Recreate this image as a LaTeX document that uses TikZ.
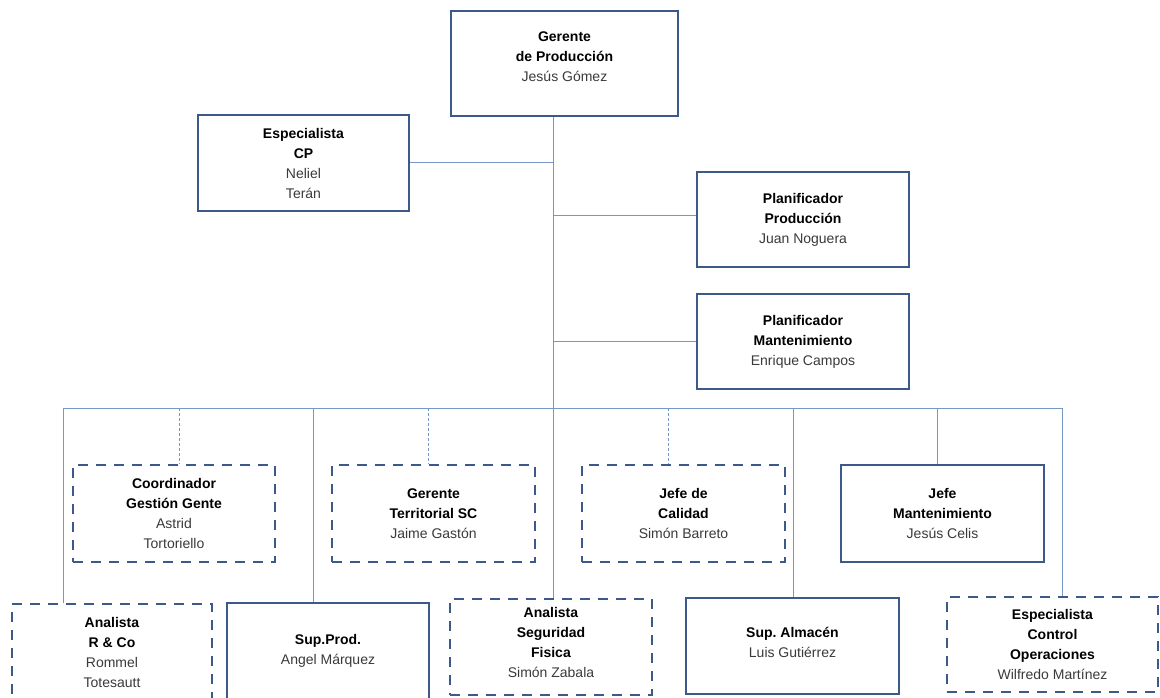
\documentclass[tikz,border=0pt]{standalone}
\usepackage{fontspec}
\setmainfont{Liberation Sans}
\usepackage{xcolor}
\usetikzlibrary{calc,positioning}
\definecolor{OrgBorder}{HTML}{3B5A89}
\definecolor{OrgLink}{HTML}{7798C6}
\definecolor{OrgName}{HTML}{3A3A3A}
\tikzset{
  orgbox/.style={draw=OrgBorder,line width=2.6pt,fill=white,align=center,
    inner sep=4pt,font=\fontsize{14}{20}\selectfont},
  dashbox/.style={orgbox,dash pattern=on 10pt off 8pt},
  link/.style={draw=OrgLink,line width=1pt},
  dashlink/.style={link,dash pattern=on 3pt off 2pt}
}
\newcommand{\puesto}[1]{\textbf{#1}}
\newcommand{\persona}[1]{\textcolor{OrgName}{#1}}

\begin{document}
\begin{tikzpicture}[x=1pt,y=-1pt]
  \path[use as bounding box] (0,0) rectangle (1160,698);
  \clip (0,0) rectangle (1160,698);
  % upper level
  \node[orgbox,minimum width=227pt,minimum height=105pt,text depth=13pt] (gerente) at (564.5,63.5)
    {\puesto{Gerente}\\\puesto{de Producción}\\\persona{Jesús Gómez}};
  \node[orgbox,minimum width=211pt,minimum height=96pt] (espcp) at (303.5,163)
    {\puesto{Especialista}\\\puesto{CP}\\\persona{Neliel}\\\persona{Terán}};
  \node[orgbox,minimum width=212pt,minimum height=95pt] (planprod) at (803,219.5)
    {\puesto{Planificador}\\\puesto{Producción}\\\persona{Juan Noguera}};
  \node[orgbox,minimum width=212pt,minimum height=95pt] (planmant) at (803,341.5)
    {\puesto{Planificador}\\\puesto{Mantenimiento}\\\persona{Enrique Campos}};
  % middle row
  \node[dashbox,minimum width=202pt,minimum height=97pt] (coord) at (174,513.5)
    {\puesto{Coordinador}\\\puesto{Gestión Gente}\\\persona{Astrid}\\\persona{Tortoriello}};
  \node[dashbox,minimum width=203pt,minimum height=97pt] (gerterr) at (433.5,513.5)
    {\puesto{Gerente}\\\puesto{Territorial SC}\\\persona{Jaime Gastón}};
  \node[dashbox,minimum width=203pt,minimum height=97pt] (jefecal) at (683.5,513.5)
    {\puesto{Jefe de}\\\puesto{Calidad}\\\persona{Simón Barreto}};
  \node[orgbox,minimum width=203pt,minimum height=97pt] (jefemant) at (942.5,513.5)
    {\puesto{Jefe}\\\puesto{Mantenimiento}\\\persona{Jesús Celis}};
  % bottom row
  \node[dashbox,minimum width=200pt,minimum height=96pt] (analrco) at (112,652)
    {\puesto{Analista}\\\puesto{R \& Co}\\\persona{Rommel}\\\persona{Totesautt}};
  \node[orgbox,minimum width=202pt,minimum height=96pt] (supprod) at (328,651)
    {\puesto{Sup.Prod.}\\\persona{Angel Márquez}};
  \node[dashbox,minimum width=202pt,minimum height=96pt,text depth=9pt] (analseg) at (551,647)
    {\puesto{Analista}\\\puesto{Seguridad}\\\puesto{Fisica}\\\persona{Simón Zabala}};
  \node[orgbox,minimum width=213pt,minimum height=96pt,text depth=8pt] (supalm) at (792.5,646)
    {\puesto{Sup.\ Almacén}\\\persona{Luis Gutiérrez}};
  \node[dashbox,minimum width=211pt,minimum height=95pt] (espctrl) at (1052.5,644.5)
    {\puesto{Especialista}\\\puesto{Control}\\\puesto{Operaciones}\\\persona{Wilfredo Martínez}};
  % bus and drops
  \foreach \x/\tgt/\sty [count=\i] in {63/analrco/link,179/coord/dashlink,313/supprod/link,
      428/gerterr/dashlink,553/analseg/link,668/jefecal/dashlink,793/supalm/link,
      937/jefemant/link,1062/espctrl/link} {
    \coordinate (drop\i) at (\x,408);
    \draw[\sty] (drop\i) -- (drop\i |- \tgt.north);
  }
  \draw[link] (drop1) -- (drop9);
  \draw[link] (gerente.south -| drop5) -- (drop5);
  \draw[link] (espcp.east) -- (espcp.east -| drop5);
  \draw[link] (planprod.west) ++(0,-4) -- ($(planprod.west -| drop5)+(0,-4)$);
  \draw[link] (planmant.west) -- (planmant.west -| drop5);
\end{tikzpicture}
\end{document}
